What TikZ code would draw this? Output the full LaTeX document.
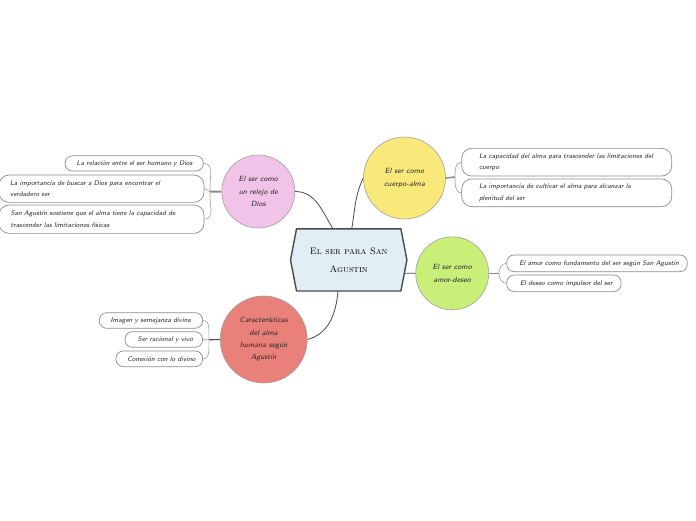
\documentclass[tikz,border=0pt]{standalone}
\usepackage{fontspec}
\usetikzlibrary{calc}
\definecolor{pinkf}{HTML}{F1C3E8}
\definecolor{yellowf}{HTML}{F9E97B}
\definecolor{greenf}{HTML}{C9EF79}
\definecolor{redf}{HTML}{E9807A}
\definecolor{ctrf}{HTML}{E1EEF4}
\definecolor{mainc}{HTML}{4A4A4A}
\definecolor{linkc}{HTML}{A8A8A8}
\definecolor{trunkc}{HTML}{8A8A8A}
\definecolor{leafline}{HTML}{8C8C8C}
\definecolor{circline}{HTML}{A0A0A0}
\definecolor{textc}{HTML}{282828}
\pgfdeclarelayer{bg}
\pgfsetlayers{bg,main}
\begin{document}
\begin{tikzpicture}[x=1pt,y=1pt,
  leaf/.style={draw=leafline, line width=0.7pt, rounded corners=7.5pt, fill=white,
    align=left, inner xsep=0pt, inner ysep=0pt,
    font=\sffamily\itshape\fontsize{6.8}{11.6}\selectfont, text=textc},
  leaftwo/.style={leaf, rounded corners=10pt},
  topic/.style={circle, draw=circline, line width=0.6pt, inner sep=0pt, align=center,
    font=\sffamily\itshape\fontsize{7.5}{12.4}\selectfont, text=textc},
  link/.style={draw=linkc, line width=0.7pt},
  trunk/.style={draw=trunkc, line width=1.5pt},
  mainlink/.style={draw=mainc, line width=0.8pt}]
\useasboundingbox (0,0) rectangle (696,-520);

% central node
\node[minimum width=116, minimum height=61.7, inner sep=0pt] (ctr) at (348.7,-259.9) {};
\filldraw[fill=ctrf, draw=mainc, line width=1.4pt, line join=round]
  (ctr.west) -- ($(ctr.north west)+(6,0)$) -- ($(ctr.north east)+(-6,0)$) -- (ctr.east)
  -- ($(ctr.south east)+(-6,0)$) -- ($(ctr.south west)+(6,0)$) -- cycle;
\node[align=center, font=\rmfamily\scshape\fontsize{9.5}{18}\selectfont, text=black] (ctrtext) at (ctr) {El ser para San\\Agustin};

% topics
\node[topic, fill=pinkf, minimum size=73] (pink) at (258.3,-191.5) {El ser como\\un relejo de\\Dios};
\node[topic, fill=yellowf, minimum size=82] (yellow) at (404.5,-178) {El ser como\\cuerpo-alma};
\node[topic, fill=greenf, minimum size=73] (green) at (452.2,-273.3) {El ser como\\amor-deseo};
\node[topic, fill=redf, minimum size=87] (red) at (263.7,-339.5) {Características\\del alma\\humana según\\Agustín};

% leaves pink
\node[leaf, minimum width=138.3, minimum height=15.3, text width=115] (b1) at (134.2,-163.4) {\mbox{La relación entre el ser humano y Dios}};
\node[leaftwo, minimum width=205, minimum height=27.3, text width=183] (b2) at (101.5,-188.7) {\mbox{La importancia de buscar a Dios para encontrar el}\\\mbox{verdadero ser}};
\node[leaftwo, minimum width=205, minimum height=28.3, text width=181.6] (b3) at (101.5,-219.2) {\mbox{San Agustín sostiene que el alma tiene la capacidad de}\\\mbox{trascender las limitaciones físicas}};

% leaves yellow
\node[leaftwo, minimum width=210, minimum height=27.7, text width=175.4] (y1) at (566.7,-162.2) {\mbox{La capacidad del alma para trascender las limitaciones del}\\\mbox{cuerpo}};
\node[leaftwo, minimum width=210, minimum height=27.7, text width=175.4] (y2) at (566.7,-192.8) {\mbox{La importancia de cultivar el alma para alcanzar la}\\\mbox{plenitud del ser}};

% leaves green
\node[leaf, minimum width=180.6, minimum height=16.7, text width=155.4] (g1) at (597,-263.3) {\mbox{El amor como fundamento del ser según San Agustín}};
\node[leaf, minimum width=114.3, minimum height=16.7, text width=87.8] (g2) at (563.9,-283.3) {\mbox{El deseo como impulsor del ser}};

% leaves red
\node[leaf, minimum width=103.4, minimum height=15.6, text width=80.6] (r1) at (151,-320.5) {\mbox{Imagen y semejanza divina}};
\node[leaf, minimum width=77.7, minimum height=15.6, text width=52.3] (r2) at (163.8,-339.5) {\mbox{Ser racional y vivo}};
\node[leaf, minimum width=86.7, minimum height=15.7, text width=64] (r3) at (159.3,-358.8) {\mbox{Conexión con lo divino}};

% junctions
\coordinate (jp) at (210,-191.7);
\coordinate (jy) at (455,-177);
\coordinate (jg) at (499,-273.3);
\coordinate (jr) at (209,-339.8);

\begin{pgfonlayer}{bg}
% main connectors
\draw[mainlink] ($(ctr.north)+(-15.7,0)$) to[out=122,in=0] (pink.east);
\draw[mainlink] ($(ctr.north)+(3,0)$) to[out=80,in=-115] (yellow.west);
\draw[mainlink] ($(ctr.east)+(-2.5,-13.3)$) -- (green.west);
\draw[mainlink] ($(ctr.south)+(-10.7,0)$) to[out=-95,in=15] (red.east);
% trunks
\draw[trunk, line width=2pt] (pink.west) -- (jp);
\draw[trunk] (yellow.east) -- (jy);
\draw[trunk] (green.east) -- (jg);
\draw[trunk, draw=mainc, line width=1.1pt] (red.west) -- (jr);
% leaf links
\draw[link] (jp) to[out=95,in=0] (b1.east);
\draw[link] (jp) to[out=170,in=0] (b2.east);
\draw[link] (jp) to[out=-95,in=0] (b3.east);
\draw[link] (jy) to[out=90,in=180] (y1.west);
\draw[link] (jy) to[out=-90,in=180] (y2.west);
\draw[link] (jg) to[out=90,in=180] (g1.west);
\draw[link] (jg) to[out=-90,in=180] (g2.west);
\draw[link] (jr) to[out=95,in=0] (r1.east);
\draw[link] (jr) -- (r2.east);
\draw[link] (jr) to[out=-95,in=0] (r3.east);
\end{pgfonlayer}
\end{tikzpicture}
\end{document}
